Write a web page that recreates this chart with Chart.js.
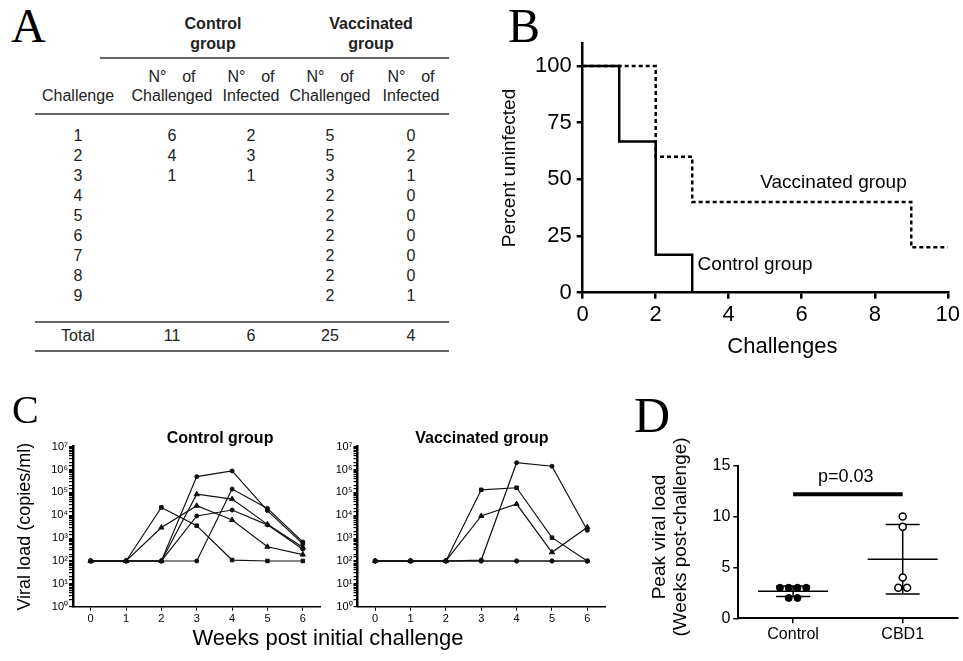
<!DOCTYPE html>
<html><head><meta charset="utf-8">
<script src="https://cdn.jsdelivr.net/npm/chart.js@4.4.1/dist/chart.umd.min.js"></script>
<style>
html,body{margin:0;padding:0;background:#fff;}
#root{position:relative;width:963px;height:661px;overflow:hidden;font-family:'Liberation Sans',Arial,Helvetica,sans-serif;color:#000;}
.abs{position:absolute;white-space:nowrap;}
.letter{position:absolute;font-family:'Liberation Serif','Times New Roman',serif;line-height:1;color:#000;white-space:nowrap;}
canvas{position:absolute;}
.cell{position:absolute;transform:translate(-50%,-50%);line-height:1;font-size:16px;color:#222;white-space:nowrap;}
</style></head><body><div id="root">
<canvas id="cB" width="483" height="370" style="left:480px;top:0px"></canvas>
<canvas id="cC1" width="330" height="281" style="left:0px;top:380px"></canvas>
<canvas id="cC2" width="290" height="281" style="left:330px;top:380px"></canvas>
<canvas id="cD" width="343" height="281" style="left:620px;top:380px"></canvas>
</div>
<script>
// ---------- Panel A data ----------
const challenges     = [1,2,3,4,5,6,7,8,9];
const ctrlChallenged = [6,4,1,null,null,null,null,null,null];
const ctrlInfected   = [2,3,1,null,null,null,null,null,null];
const vacChallenged  = [5,5,3,2,2,2,2,2,2];
const vacInfected    = [0,2,1,0,0,0,0,0,1];

// ---------- Panel B data ----------
const ctrlStepX = [0,1,2,3];
const ctrlStepY = [100,66.7,16.7,0];
const vacStepX  = [0,2,3,9,10];
const vacStepY  = [100,60,40,20,20];
const bXTicks = [0,2,4,6,8,10];
const bYTicks = [0,25,50,75,100];

// ---------- Panel C data (copies/ml) ----------
const weeks = [0,1,2,3,4,5,6];
const ctrlAnimal1 = [100,100,22000,3500,110,100,100];
const ctrlAnimal2 = [100,100,2900,26000,6200,420,190];
const ctrlAnimal3 = [100,100,100,490000,870000,16000,560];
const ctrlAnimal4 = [100,100,100,100,140000,20000,680];
const ctrlAnimal5 = [100,100,100,83000,51000,4000,400];
const ctrlAnimal6 = [100,100,100,9300,17000,3800,330];
const vacAnimal1 = [100,100,100,110,2000000,1400000,2200];
const vacAnimal2 = [100,100,100,130000,160000,1050,100];
const vacAnimal3 = [100,100,100,9300,31000,240,3000];
const vacAnimal4 = [100,100,100,100,100,100,100];
const vacAnimal5 = [100,100,100,100,100,100,100];

// ---------- Panel D data ----------
const groups   = ['Control','CBD1'];
const ctrlPeak = [3,3,3,3,2,2];
const cbd1Peak = [10,9,4,3,3];
const dYTicks  = [0,5,10,15];
const pValueText = 'p=0.03';
const sigLevel = 12.2;

const SANS = "'Liberation Sans', Arial, Helvetica, sans-serif";
const root = document.getElementById('root');
function add(html, css, cls){ const d=document.createElement('div'); d.className=cls||'abs'; d.innerHTML=html; Object.assign(d.style, css); root.appendChild(d); return d; }

// ---------- Panel A table ----------
const colX = [78,172,251,330,411];
add('Control<br>group', {left:'213px', top:'34px', fontWeight:'bold', lineHeight:'20px', textAlign:'center'}, 'cell');
add('Vaccinated<br>group', {left:'371px', top:'34px', fontWeight:'bold', lineHeight:'20px', textAlign:'center'}, 'cell');
add('Challenge', {left:colX[0]+'px', top:'95.5px'}, 'cell');
['Challenged','Infected','Challenged','Infected'].forEach((w,j)=>{
  add('<div style="display:flex;justify-content:space-between;width:47px;margin:0 auto"><span>N°</span><span>of</span></div><div style="text-align:center">'+w+'</div>',
      {left:colX[j+1]+'px', top:'85.8px', lineHeight:'19.5px'}, 'cell');
});
challenges.forEach((c,i)=>{
  const y = 136 + i*20;
  [c, ctrlChallenged[i], ctrlInfected[i], vacChallenged[i], vacInfected[i]].forEach((v,j)=>{
    if(v!==null) add(String(v), {left:colX[j]+'px', top:y+'px'}, 'cell');
  });
});
const sum = a => a.reduce((s,v)=>s+(v||0),0);
['Total', sum(ctrlChallenged), sum(ctrlInfected), sum(vacChallenged), sum(vacInfected)].forEach((v,j)=>{
  add(String(v), {left:colX[j]+'px', top:'335.5px'}, 'cell');
});
[[100,57],[35,113],[35,321],[35,350]].forEach(r=>{
  add('', {left:r[0]+'px', top:r[1]+'px', width:(449-r[0])+'px', height:'2px', background:'#666'});
});

// ---------- Panel letters & shared title ----------
add('A', {left:'11px', top:'1.6px', fontSize:'48px'}, 'letter');
add('B', {left:'508px', top:'1.6px', fontSize:'48px'}, 'letter');
add('C', {left:'12px', top:'389.7px', fontSize:'40px'}, 'letter');
add('D', {left:'634px', top:'389.5px', fontSize:'50px'}, 'letter');
add('Weeks post initial challenge', {left:'328px', top:'627.3px', fontSize:'22px', lineHeight:'1', transform:'translateX(-50%)'});

// ---------- Plugins ----------
const freeText = {
  id:'freeText',
  afterDraw(chart, args, opts){
    const ctx = chart.ctx;
    (opts.items||[]).forEach(it=>{
      const x = it.px!==undefined ? it.px : chart.scales.x.getPixelForValue(it.x);
      const y = it.py!==undefined ? it.py : chart.scales.y.getPixelForValue(it.y);
      ctx.save(); ctx.translate(x,y); if(it.rot) ctx.rotate(it.rot*Math.PI/180);
      ctx.font = it.font; ctx.fillStyle = it.color||'#000'; ctx.textAlign = it.align||'center'; ctx.textBaseline='middle';
      ctx.fillText(it.text,0,0); ctx.restore();
    });
  }
};
const meanSD = {
  id:'meanSD',
  beforeDatasetsDraw(chart, args, opts){
    if(!opts.groups) return;
    const ctx = chart.ctx, xs = chart.scales.x, ys = chart.scales.y;
    ctx.save(); ctx.strokeStyle='#000'; ctx.lineWidth=opts.lineWidth||1.5;
    opts.groups.forEach((vals,gi)=>{
      const n=vals.length, m=vals.reduce((a,b)=>a+b,0)/n;
      const sd=Math.sqrt(vals.reduce((a,b)=>a+(b-m)*(b-m),0)/(n-1));
      const cx=xs.getPixelForValue(gi+1), ym=ys.getPixelForValue(m), yt=ys.getPixelForValue(m+sd), yb=ys.getPixelForValue(m-sd);
      ctx.beginPath();
      ctx.moveTo(cx-opts.meanHalf,ym); ctx.lineTo(cx+opts.meanHalf,ym);
      ctx.moveTo(cx,yt); ctx.lineTo(cx,yb);
      ctx.moveTo(cx-opts.capHalf,yt); ctx.lineTo(cx+opts.capHalf,yt);
      ctx.moveTo(cx-opts.capHalf,yb); ctx.lineTo(cx+opts.capHalf,yb);
      ctx.stroke();
    });
    ctx.restore();
  }
};
Chart.register(freeText, meanSD);
Chart.defaults.font.family = SANS;
Chart.defaults.color = '#000';

const pts = (xs, ys) => xs.map((x,i)=>({x:x, y:ys[i]}));

// ---------- Panel B ----------
new Chart(document.getElementById('cB'), {
  type:'line',
  data:{datasets:[
    {label:'Control group', data:pts(ctrlStepX, ctrlStepY), stepped:'before', borderColor:'#000', borderWidth:2.5, pointRadius:0, fill:false},
    {label:'Vaccinated group', data:pts(vacStepX, vacStepY), stepped:'before', borderColor:'#000', borderWidth:2.5, borderDash:[4,3], pointRadius:0, fill:false}
  ]},
  options:{
    responsive:false, animation:false, devicePixelRatio:1,
    layout:{padding:{top:43.3, right:12, bottom:10.1, left:0}},
    plugins:{legend:{display:false}, tooltip:{enabled:false},
      freeText:{items:[
        {text:'Vaccinated group', x:6.87, y:48.7, font:'19px '+SANS},
        {text:'Control group', x:4.72, y:12.2, font:'19px '+SANS},
        {text:'Challenges', x:5.47, py:346.7, font:'22px '+SANS}
      ]}},
    scales:{
      x:{type:'linear', min:0, max:10, afterBuildTicks:s=>{s.ticks=bXTicks.map(v=>({value:v}));},
         ticks:{font:{size:22}, padding:3, color:'#000', maxRotation:0},
         grid:{drawOnChartArea:false, tickLength:6, color:'#000', lineWidth:2.5},
         border:{color:'#000', width:2.5},
         afterFit:s=>{s.height=67.2;}},
      y:{type:'linear', min:0, max:110, afterBuildTicks:s=>{s.ticks=bYTicks.map(v=>({value:v}));},
         ticks:{font:{size:22}, padding:5, color:'#000'},
         grid:{drawOnChartArea:false, tickLength:6, color:'#000', lineWidth:2.5},
         border:{color:'#000', width:2.5},
         title:{display:true, text:'Percent uninfected', font:{size:19}, padding:{top:18.6, bottom:0}, color:'#000'},
         afterFit:s=>{s.width=102.7;}}
    }
  }
});

// ---------- Panel C ----------
const SUP = {'0':'⁰','1':'¹','2':'²','3':'³','4':'⁴','5':'⁵','6':'⁶','7':'⁷','8':'⁸','9':'⁹'};
function lineSet(vals, style){
  const r = style==='rect'?2.5:(style==='triangle'?3:2);
  return {data:pts(weeks, vals), borderColor:'#111', borderWidth:1.2, pointStyle:style, pointRadius:r,
          pointBackgroundColor:'#111', pointBorderColor:'#111', pointBorderWidth:1, tension:0, fill:false};
}
function cChart(id, sets, title, titleX, showYTitle, yWidth, padRight){
  return new Chart(document.getElementById(id), {
    type:'line',
    data:{datasets:sets},
    options:{
      responsive:false, animation:false, devicePixelRatio:1,
      layout:{padding:{top:66.7, right:padRight, bottom:0, left:0}},
      plugins:{legend:{display:false}, tooltip:{enabled:false},
        freeText:{items:[{text:title, x:titleX, y:2.2e7, font:'bold 16px '+SANS}]}},
      scales:{
        x:{type:'linear', min:-0.5, max:6.5, afterBuildTicks:s=>{s.ticks=weeks.map(v=>({value:v}));},
           ticks:{font:{size:11}, padding:2, color:'#000', maxRotation:0},
           grid:{drawOnChartArea:false, tickLength:4, color:'#000', lineWidth:1},
           border:{color:'#000', width:1.5},
           afterFit:s=>{s.height=54.3;}},
        y:{type:'logarithmic', min:1, max:1e7,
           ticks:{autoSkip:false, font:{size:11}, padding:1, color:'#000',
             callback:v=>{ const l=Math.log10(v); const r=Math.round(l);
               return Math.abs(l-r)<1e-9 ? '10'+String(r).split('').map(c=>SUP[c]).join('') : ''; }},
           grid:{drawOnChartArea:false, tickLength:4, color:'#000', lineWidth:1.2},
           border:{color:'#000', width:2.5},
           title:{display:showYTitle, text:'Viral load (copies/ml)', font:{size:18}, padding:{top:14.2, bottom:0}, color:'#000'},
           afterFit:s=>{s.width=yWidth;}}
      }
    }
  });
}
cChart('cC1', [
  lineSet(ctrlAnimal1,'rect'), lineSet(ctrlAnimal2,'triangle'), lineSet(ctrlAnimal3,'circle'),
  lineSet(ctrlAnimal4,'circle'), lineSet(ctrlAnimal5,'triangle'), lineSet(ctrlAnimal6,'circle')
], 'Control group', 3.66, true, 73, 9.5);
cChart('cC2', [
  lineSet(vacAnimal1,'circle'), lineSet(vacAnimal2,'rect'), lineSet(vacAnimal3,'triangle'),
  lineSet(vacAnimal4,'circle'), lineSet(vacAnimal5,'circle')
], 'Vaccinated group', 3.02, false, 27.5, 15);

// ---------- Panel D ----------
function jitter(vals, group){
  const counts={}, seen={};
  vals.forEach(v=>counts[v]=(counts[v]||0)+1);
  return vals.map(v=>{ const i=(seen[v]=(seen[v]||0)+1)-1; const n=counts[v]; return {x:group+(i-(n-1)/2)*0.08, y:v}; });
}
new Chart(document.getElementById('cD'), {
  type:'scatter',
  data:{datasets:[
    {data:jitter(ctrlPeak,1), pointRadius:3.5, pointBackgroundColor:'#000', pointBorderColor:'#000', pointBorderWidth:1},
    {data:jitter(cbd1Peak,2), pointRadius:3.5, pointBackgroundColor:'#fff', pointBorderColor:'#000', pointBorderWidth:1.5},
    {type:'line', data:[{x:1,y:sigLevel},{x:2,y:sigLevel}], borderColor:'#000', borderWidth:4, pointRadius:0, fill:false}
  ]},
  options:{
    responsive:false, animation:false, devicePixelRatio:1,
    layout:{padding:{top:85.7, right:0, bottom:0, left:0}},
    plugins:{legend:{display:false}, tooltip:{enabled:false},
      meanSD:{groups:[ctrlPeak, cbd1Peak], meanHalf:35, capHalf:17, lineWidth:1.5},
      freeText:{items:[
        {text:pValueText, x:1.48, y:13.9, font:'18px '+SANS},
        {text:'Peak viral load', px:40, py:157, rot:-90, font:'19px '+SANS},
        {text:'(Weeks post-challenge)', px:61, py:157, rot:-90, font:'19px '+SANS}
      ]}},
    scales:{
      x:{type:'linear', min:0.5, max:2.5, afterBuildTicks:s=>{s.ticks=[1,2].map(v=>({value:v}));},
         ticks:{font:{size:16}, padding:2, color:'#000', maxRotation:0, callback:v=>groups[v-1]},
         grid:{drawOnChartArea:false, tickLength:5, color:'#000', lineWidth:1.5},
         border:{color:'#000', width:2},
         afterFit:s=>{s.height=42.7;}},
      y:{type:'linear', min:0, max:15, afterBuildTicks:s=>{s.ticks=dYTicks.map(v=>({value:v}));},
         ticks:{font:{size:16}, padding:3, color:'#000'},
         grid:{drawOnChartArea:false, tickLength:5, color:'#000', lineWidth:1.5},
         border:{color:'#000', width:2},
         afterFit:s=>{s.width=118.3;}}
    }
  }
});
</script></body></html>
